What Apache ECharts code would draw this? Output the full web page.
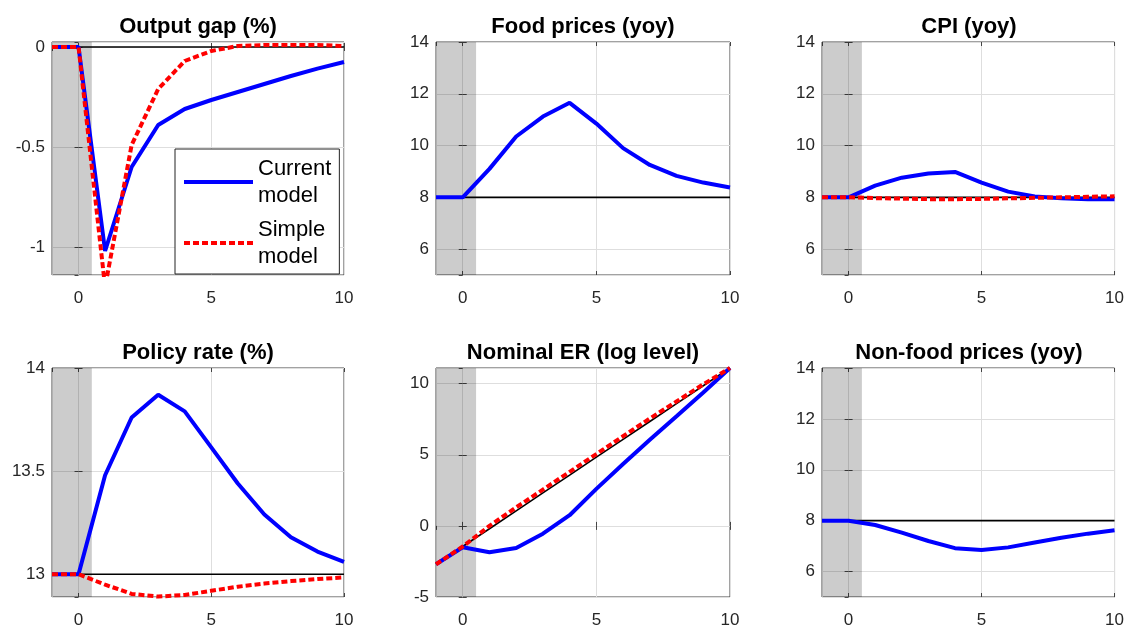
<!DOCTYPE html>
<html><head><meta charset="utf-8">
<script src="https://cdn.jsdelivr.net/npm/echarts@6/dist/echarts.min.js"></script>
<style>html,body{margin:0;padding:0;background:#fff}#c{width:1127px;height:629px}</style>
</head><body><div id="c"></div>
<script>
// ---- data ----
const periods = [-1, 0, 1, 2, 3, 4, 5, 6, 7, 8, 9, 10];
const seriesNames = ['Current model', 'Simple model'];
const panelTitles = ['Output gap (%)', 'Food prices (yoy)', 'CPI (yoy)', 'Policy rate (%)', 'Nominal ER (log level)', 'Non-food prices (yoy)'];

const outputGapCurrent = [0, 0, -1.02, -0.6, -0.39, -0.31, -0.265, -0.225, -0.185, -0.145, -0.108, -0.075];
const outputGapSimple  = [0, 0, -1.2, -0.49, -0.21, -0.07, -0.02, 0.005, 0.01, 0.01, 0.01, 0.005];
const outputGapSteady  = [0, 0, 0, 0, 0, 0, 0, 0, 0, 0, 0, 0];

const foodCurrent = [8, 8, 9.1, 10.35, 11.12, 11.65, 10.85, 9.9, 9.25, 8.83, 8.57, 8.38];
const foodSteady  = [8, 8, 8, 8, 8, 8, 8, 8, 8, 8, 8, 8];

const cpiCurrent = [8, 8, 8.45, 8.76, 8.92, 8.98, 8.57, 8.22, 8.03, 7.96, 7.93, 7.93];
const cpiSimple  = [8, 8, 7.97, 7.95, 7.93, 7.93, 7.94, 7.96, 7.98, 8.0, 8.02, 8.04];
const cpiSteady  = [8, 8, 8, 8, 8, 8, 8, 8, 8, 8, 8, 8];

const policyCurrent = [13, 13, 13.48, 13.76, 13.87, 13.79, 13.615, 13.44, 13.29, 13.18, 13.11, 13.06];
const policySimple  = [13, 13, 12.95, 12.905, 12.892, 12.9, 12.92, 12.94, 12.955, 12.967, 12.977, 12.985];
const policySteady  = [13, 13, 13, 13, 13, 13, 13, 13, 13, 13, 13, 13];

const erCurrent = [-2.7, -1.5, -1.85, -1.55, -0.55, 0.75, 2.6, 4.35, 6.05, 7.7, 9.38, 11.1];
const erSimple  = [-2.7, -1.45, 0.0, 1.3, 2.55, 3.8, 5.05, 6.3, 7.55, 8.75, 9.95, 11.1];
const erSteady  = [-2.7, -1.45, -0.2, 1.06, 2.32, 3.57, 4.83, 6.08, 7.34, 8.59, 9.85, 11.1];

const nonFoodCurrent = [8, 8, 7.83, 7.53, 7.2, 6.92, 6.85, 6.95, 7.14, 7.33, 7.49, 7.62];
const nonFoodSteady  = [8, 8, 8, 8, 8, 8, 8, 8, 8, 8, 8, 8];

const shadeRange = [-1, 0.5];
const xRange = [-1, 10];

// ---- layout / styling ----
const FONT = 'Liberation Sans, Arial, Helvetica, sans-serif';
const panels = [
  { left: 52,  top: 42,  width: 292, yMin: -1.14, yMax: 0.025, split: 2, minLbl: false, maxLbl: false,
    cur: outputGapCurrent, sim: outputGapSimple, ss: outputGapSteady },
  { left: 436, top: 42,  width: 294, yMin: 5, yMax: 14, split: 5, minLbl: false, maxLbl: true,
    cur: foodCurrent, sim: null, ss: foodSteady },
  { left: 822, top: 42,  width: 294, yMin: 5, yMax: 14, split: 5, minLbl: false, maxLbl: true,
    cur: cpiCurrent, sim: cpiSimple, ss: cpiSteady },
  { left: 52,  top: 368, width: 292, yMin: 12.89, yMax: 14, split: 2, minLbl: false, maxLbl: true,
    cur: policyCurrent, sim: policySimple, ss: policySteady },
  { left: 436, top: 368, width: 294, yMin: -5, yMax: 11.1, split: 3, minLbl: true, maxLbl: false,
    cur: erCurrent, sim: erSimple, ss: erSteady },
  { left: 822, top: 368, width: 294, yMin: 5, yMax: 14, split: 5, minLbl: false, maxLbl: true,
    cur: nonFoodCurrent, sim: null, ss: nonFoodSteady }
];
const H = 233;
const borderColor = '#444';
const gridLineColor = '#dedede';
const tickStyle = { show: true, inside: true, length: 4, lineStyle: { color: borderColor } };

const pairs = vals => periods.map((p, i) => [p, vals[i]]);

const grid = [], xAxis = [], yAxis = [], series = [], title = [];
panels.forEach((pn, i) => {
  grid.push({ left: pn.left, top: pn.top, width: pn.width, height: H, show: true,
              borderColor: borderColor, borderWidth: 1, backgroundColor: '#fff' });
  title.push({ text: panelTitles[i], left: pn.left + pn.width / 2, top: pn.top - 26, textAlign: 'center',
               padding: 0, textStyle: { fontFamily: FONT, fontSize: 22, fontWeight: 'bold', color: '#000' } });
  xAxis.push({ type: 'value', gridIndex: i, position: 'bottom', min: xRange[0], max: xRange[1], splitNumber: 2,
               axisLine: { show: false }, axisTick: tickStyle,
               axisLabel: { fontFamily: FONT, fontSize: 17, color: '#262626', margin: 15, showMinLabel: false },
               splitLine: { show: true, lineStyle: { color: gridLineColor, width: 1 } } });
  xAxis.push({ type: 'value', gridIndex: i, position: 'top', min: xRange[0], max: xRange[1], splitNumber: 2,
               axisLine: { show: false }, axisTick: tickStyle, axisLabel: { show: false }, splitLine: { show: false } });
  yAxis.push({ type: 'value', gridIndex: i, position: 'left', min: pn.yMin, max: pn.yMax, splitNumber: pn.split,
               axisLine: { show: false }, axisTick: tickStyle,
               axisLabel: { fontFamily: FONT, fontSize: 17, color: '#262626', margin: 7,
                            showMinLabel: pn.minLbl, showMaxLabel: pn.maxLbl },
               splitLine: { show: true, lineStyle: { color: gridLineColor, width: 1 } } });
  yAxis.push({ type: 'value', gridIndex: i, position: 'right', min: pn.yMin, max: pn.yMax, splitNumber: pn.split,
               axisLine: { show: false }, axisTick: tickStyle, axisLabel: { show: false }, splitLine: { show: false } });

  series.push({ type: 'line', name: 'steady', xAxisIndex: 2 * i, yAxisIndex: 2 * i, data: pairs(pn.ss),
                symbol: 'none', z: 3, silent: true, lineStyle: { color: '#000', width: 1.6 },
                markArea: { silent: true, itemStyle: { color: 'rgba(0,0,0,0.2)' },
                            data: [[{ xAxis: shadeRange[0] }, { xAxis: shadeRange[1] }]] } });
  series.push({ type: 'line', name: seriesNames[0], xAxisIndex: 2 * i, yAxisIndex: 2 * i, data: pairs(pn.cur),
                symbol: 'none', z: 4, color: '#0000ff', lineStyle: { color: '#0000ff', width: 4 } });
  if (pn.sim) {
    series.push({ type: 'line', name: seriesNames[1], xAxisIndex: 2 * i, yAxisIndex: 2 * i, data: pairs(pn.sim),
                  symbol: 'none', z: 5, color: '#ff0000', lineStyle: { color: '#ff0000', width: 4, type: [6, 3] } });
  }
});

const chart = echarts.init(document.getElementById('c'), null, { renderer: 'canvas' });
chart.setOption({
  animation: false,
  backgroundColor: '#fff',
  title, grid, xAxis, yAxis, series,
  legend: {
    data: seriesNames, orient: 'vertical', left: 175, top: 149,
    padding: [6, 8, 4, 7], itemGap: 7, itemWidth: 69, itemHeight: 14,
    borderColor: '#222', borderWidth: 1, backgroundColor: '#fff',
    itemStyle: { opacity: 0, borderWidth: 0 },
    lineStyle: { width: 4 },
    formatter: n => n.replace(' ', '\n'),
    textStyle: { fontFamily: FONT, fontSize: 22, lineHeight: 27, color: '#000' },
    selectedMode: false
  }
});
</script></body></html>
